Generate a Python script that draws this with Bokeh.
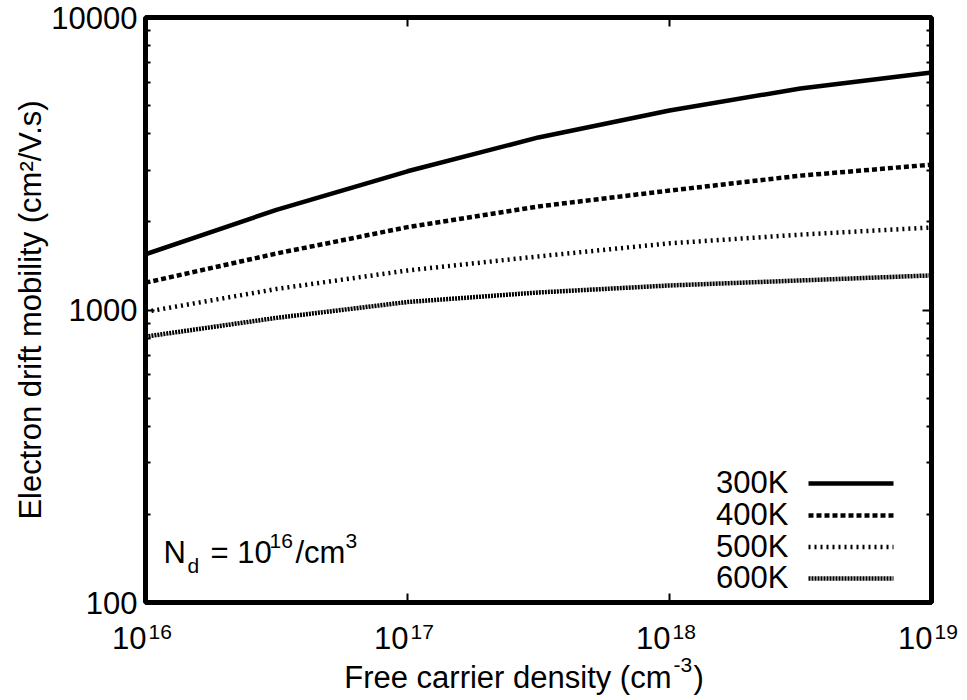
import math
from bokeh.plotting import figure
from bokeh.layouts import column
from bokeh.models import FixedTicker, LogAxis, Label, Arrow, NumeralTickFormatter, Range1d
from bokeh.embed import file_html
from bokeh.resources import INLINE

# ---------------- data ----------------
carrier_density = [1.0e16, 3.16e16, 1.0e17, 3.16e17, 1.0e18, 3.16e18, 1.0e19]
mobility_300K = [1550, 2200, 2980, 3890, 4810, 5720, 6490]
mobility_400K = [1240, 1560, 1920, 2260, 2560, 2880, 3140]
mobility_500K = [985, 1180, 1365, 1525, 1690, 1810, 1915]
mobility_600K = [811, 940, 1065, 1148, 1213, 1262, 1313]

series_names = ["300K", "400K", "500K", "600K"]
series_values = [mobility_300K, mobility_400K, mobility_500K, mobility_600K]

x_ticks = [1e16, 1e17, 1e18, 1e19]
x_tick_exponents = ["16", "17", "18", "19"]
y_ticks = [100, 1000, 10000]
y_minor_ticks = [200, 300, 400, 500, 600, 700, 800, 900,
                 2000, 3000, 4000, 5000, 6000, 7000, 8000, 9000]

# ---------------- styling ----------------
FONT = "Liberation Sans"
FS = "31px"
FS_SUP = "21px"
BL = 11      # baseline correction for 31px labels
BL_S = 8     # baseline correction for 21px labels
widths = [4.5, 4.5, 4.5, 4.5]
dashes = ["solid", "5 3", "2 4", "2 1"]

W, H_MAIN, H_BOT = 967, 620, 80
LEFT, RIGHT = 145, 36

p = figure(width=W, height=H_MAIN, x_axis_type="log", y_axis_type="log",
           x_range=Range1d(1e16, 1e19), y_range=Range1d(100, 10000),
           output_backend="svg", toolbar_location=None,
           min_border_left=LEFT, min_border_right=RIGHT,
           min_border_top=17, min_border_bottom=18)
p.frame_align = False
p.background_fill_color = "white"
p.border_fill_color = "white"
p.grid.visible = False
p.outline_line_color = "black"
p.outline_line_width = 5

for name, vals, w, d in zip(series_names, series_values, widths, dashes):
    p.line(carrier_density, vals, line_color="black", line_width=w, line_dash=d)

def style_axis(ax, is_y, show_labels):
    ax.axis_line_color = None
    ax.major_tick_line_color = "black"
    ax.minor_tick_line_color = "black"
    ax.major_tick_line_width = 2
    ax.minor_tick_line_width = 2
    ax.major_tick_in = 9
    ax.major_tick_out = 0
    ax.minor_tick_in = 5
    ax.minor_tick_out = 0
    if is_y:
        ax.ticker = FixedTicker(ticks=y_ticks, minor_ticks=y_minor_ticks)
        ax.formatter = NumeralTickFormatter(format="0")
    else:
        ax.ticker = FixedTicker(ticks=x_ticks, minor_ticks=[])
    if show_labels:
        ax.major_label_text_font = FONT
        ax.major_label_text_font_size = FS
        ax.major_label_text_color = "black"
        ax.major_label_standoff = 8
    else:
        ax.major_label_text_font_size = "0px"
        ax.major_label_text_color = None
        ax.major_label_standoff = 0

style_axis(p.yaxis[0], True, True)
p.yaxis[0].axis_label = "Electron drift mobility (cm\u00b2/V.s)"
p.yaxis[0].axis_label_text_font = FONT
p.yaxis[0].axis_label_text_font_size = FS
p.yaxis[0].axis_label_text_font_style = "normal"
p.yaxis[0].axis_label_text_color = "black"
p.yaxis[0].axis_label_standoff = 0
style_axis(p.xaxis[0], False, False)
ax_r = LogAxis()
style_axis(ax_r, True, False)
p.add_layout(ax_r, "right")
ax_t = LogAxis()
style_axis(ax_t, False, False)
p.add_layout(ax_t, "above")

def lab(fig, text, x, y, xu="screen", size=FS, align="left", xo=0):
    fig.add_layout(Label(x=x, y=y, x_units=xu, y_units="screen", text=text, x_offset=xo,
                         text_font=FONT, text_font_size=size, text_color="black",
                         text_align=align, text_baseline="alphabetic"))

# annotation N_d = 10^16/cm^3  (frame bottom at canvas y=602)
lab(p, "N", 18, 39 + BL)
lab(p, "d", 42, 29 + BL_S, size=FS_SUP)
lab(p, "= 10", 65, 39 + BL)
lab(p, "16", 124, 54 + BL_S, size=FS_SUP)
lab(p, "/cm", 150, 39 + BL)
lab(p, "3", 200, 54 + BL_S, size=FS_SUP)

# legend (text left of line sample)
text_base = [109, 77, 45.5, 14]
line_y = [119, 87, 55.5, 24]
for name, tb, ly, w, d in zip(series_names, text_base, line_y, widths, dashes):
    lab(p, name, 643, tb + BL, align="right")
    p.add_layout(Arrow(x_start=663, y_start=ly, x_end=748, y_end=ly,
                       start_units="screen", end_units="screen", end=None,
                       line_color="black", line_width=w, line_dash=d))

# ---------------- bottom strip: x tick labels and x title ----------------
decade_px = (W - LEFT - RIGHT) / 3.0
bx_range = Range1d(10 ** (16 - LEFT / decade_px), 10 ** (19 + RIGHT / decade_px))
b = figure(width=W, height=H_BOT, x_axis_type="log", x_range=bx_range,
           y_range=Range1d(0, 1), output_backend="svg", toolbar_location=None,
           x_axis_location=None, y_axis_location=None, min_border=0)
b.frame_align = False
b.outline_line_color = None
b.grid.visible = False
b.background_fill_color = "white"
b.border_fill_color = "white"

for t, e in zip(x_ticks, x_tick_exponents):
    lab(b, "10", t, 52 + BL, xu="data", align="right", xo=1)
    lab(b, e, t, 61 + BL_S, xu="data", size=FS_SUP, align="left", xo=3)

lab(b, "Free carrier density (cm", 671, 12 + BL, align="right")
lab(b, "-3", 671, 28 + BL_S, size=FS_SUP, align="left", xo=2)
lab(b, ")", 671, 12 + BL, align="left", xo=22)

layout = column(p, b, spacing=0)
open("out.html", "w").write(file_html(layout, INLINE))
